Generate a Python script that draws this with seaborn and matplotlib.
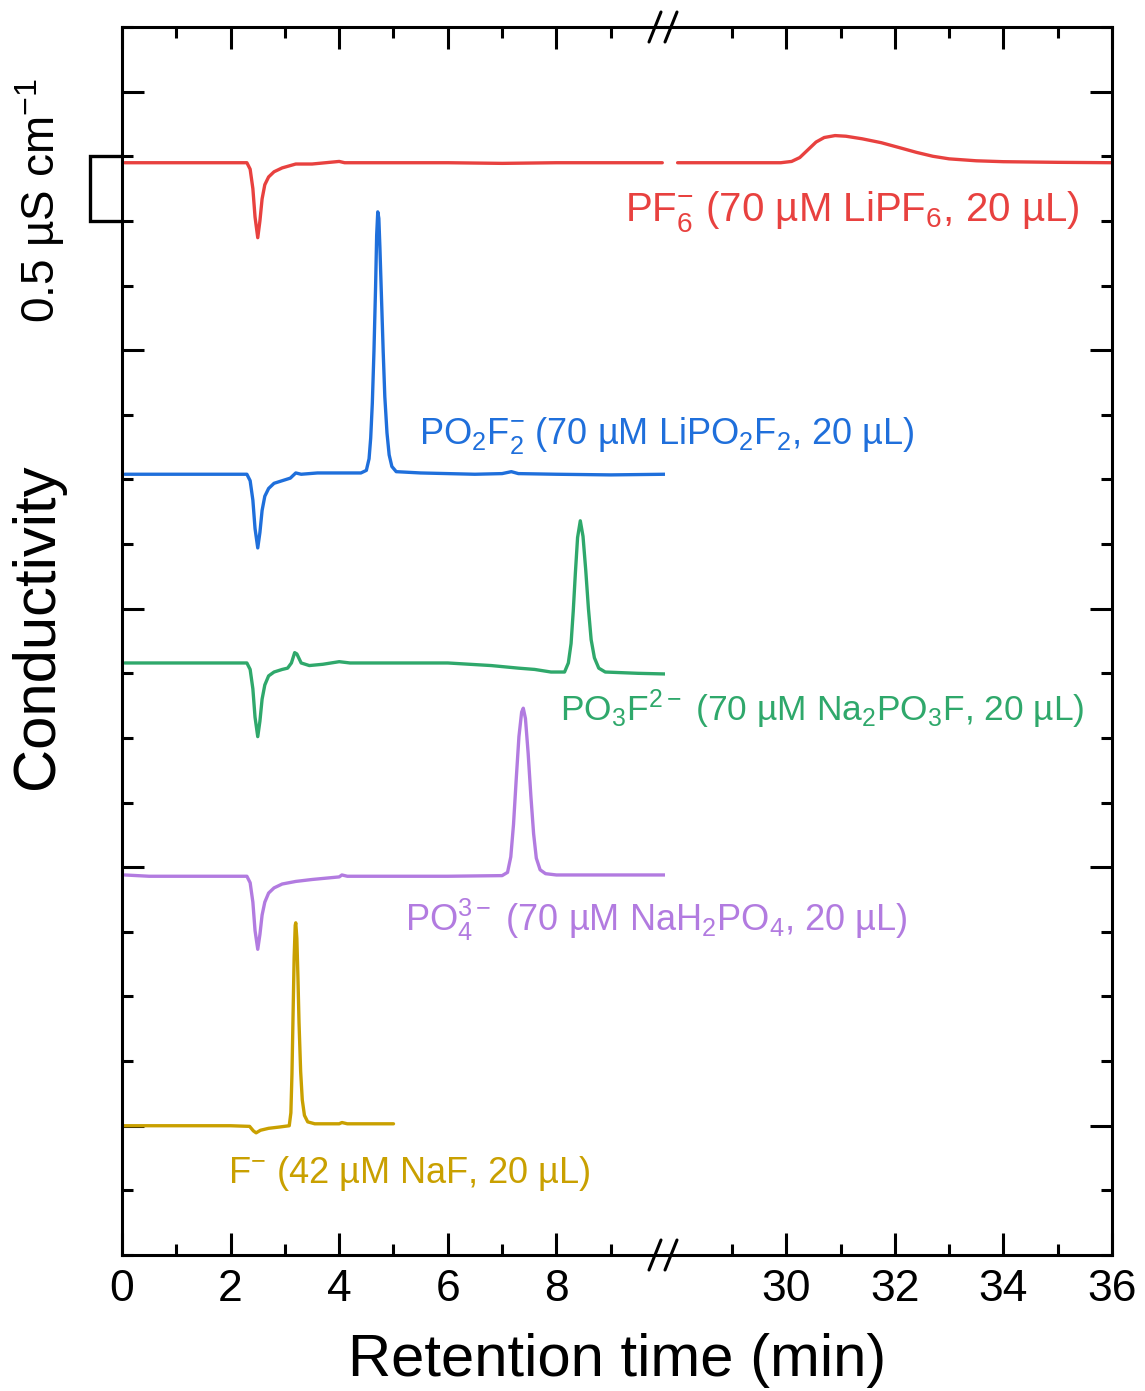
import numpy as np
import pandas as pd
import matplotlib
matplotlib.use("Agg")
import matplotlib.pyplot as plt
import matplotlib.transforms as mtransforms
import seaborn as sns

# ---------------- data ----------------
trace_names = ["PF6", "PO2F2", "PO3F", "PO4", "F"]
trace_colors = ["#e8413f", "#1f6fdb", "#2fa86b", "#b27be0", "#c9a000"]
baselines = [7.45, 5.04, 3.58, 1.93, 0.0]

pf6_t = [0.05, 0.5, 1.5, 2.3, 2.36, 2.41, 2.45, 2.5, 2.54, 2.58, 2.63, 2.7, 2.8, 2.95,
         3.2, 3.5, 4.0, 4.1, 5.0, 6.0, 7.0, 8.0, 9.0, 9.95]
pf6_v = [0.0, 0.0, 0.0, 0.0, -0.05, -0.2, -0.42, -0.58, -0.45, -0.28, -0.17, -0.11, -0.07, -0.04,
         -0.01, -0.01, 0.01, 0.0, 0.0, 0.0, -0.005, 0.0, 0.0, 0.0]
pf6_t_late = [28.0, 29.0, 29.9, 30.1, 30.25, 30.4, 30.55, 30.7, 30.9, 31.1, 31.4, 31.75,
              32.1, 32.4, 32.7, 33.0, 33.5, 34.0, 35.0, 36.0]
pf6_v_late = [0.0, 0.0, 0.0, 0.01, 0.04, 0.1, 0.16, 0.195, 0.21, 0.205, 0.185, 0.155,
              0.115, 0.08, 0.05, 0.03, 0.015, 0.008, 0.003, 0.0]

po2f2_t = [0.05, 1.0, 2.3, 2.36, 2.41, 2.45, 2.5, 2.54, 2.58, 2.63, 2.7, 2.8, 2.95, 3.1, 3.2,
           3.3, 3.6, 4.0, 4.4, 4.5, 4.55, 4.58, 4.61, 4.64, 4.67, 4.69, 4.71, 4.73, 4.75, 4.78,
           4.81, 4.84, 4.88, 4.92, 4.97, 5.05, 5.5, 6.5, 7.0, 7.17, 7.3, 8.0, 9.0, 10.0]
po2f2_v = [0.0, 0.0, 0.0, -0.05, -0.2, -0.42, -0.57, -0.45, -0.28, -0.17, -0.11, -0.07, -0.05,
           -0.03, 0.01, 0.0, 0.01, 0.01, 0.01, 0.03, 0.12, 0.28, 0.55, 0.95, 1.45, 1.85, 2.03,
           1.98, 1.75, 1.35, 0.95, 0.6, 0.32, 0.15, 0.06, 0.02, 0.01, 0.0, 0.005, 0.02, 0.005,
           0.0, -0.005, 0.0]

po3f_t = [0.05, 1.0, 2.3, 2.36, 2.41, 2.45, 2.5, 2.54, 2.58, 2.63, 2.7, 2.8, 2.95, 3.05, 3.12,
          3.18, 3.22, 3.3, 3.45, 3.7, 4.0, 4.2, 5.0, 6.0, 6.8, 7.3, 7.6, 7.9, 8.15, 8.22, 8.27,
          8.31, 8.35, 8.39, 8.44, 8.49, 8.54, 8.59, 8.64, 8.7, 8.78, 8.9, 9.5, 10.0]
po3f_v = [0.0, 0.0, 0.0, -0.05, -0.2, -0.42, -0.57, -0.45, -0.28, -0.17, -0.1, -0.07, -0.05,
          -0.04, 0.0, 0.08, 0.07, 0.0, -0.02, -0.01, 0.01, 0.0, 0.0, 0.0, -0.02, -0.04, -0.05,
          -0.07, -0.07, 0.0, 0.15, 0.4, 0.7, 0.97, 1.1, 0.98, 0.72, 0.42, 0.18, 0.04, -0.04,
          -0.07, -0.08, -0.085]

po4_t = [0.05, 0.5, 1.5, 2.3, 2.36, 2.41, 2.45, 2.5, 2.54, 2.58, 2.63, 2.7, 2.8, 2.95, 3.2,
         3.5, 4.0, 4.05, 4.15, 5.0, 6.0, 7.0, 7.1, 7.16, 7.21, 7.26, 7.31, 7.36, 7.39, 7.43,
         7.48, 7.53, 7.58, 7.63, 7.7, 7.8, 8.0, 9.0, 10.0]
po4_v = [0.01, 0.0, 0.0, 0.0, -0.05, -0.2, -0.42, -0.565, -0.45, -0.3, -0.2, -0.13, -0.09,
         -0.06, -0.04, -0.025, -0.005, 0.01, 0.0, 0.0, 0.0, 0.005, 0.03, 0.15, 0.4, 0.75, 1.08,
         1.27, 1.3, 1.22, 0.95, 0.62, 0.33, 0.14, 0.05, 0.02, 0.01, 0.01, 0.01]

f_t = [0.0, 1.0, 2.0, 2.35, 2.42, 2.47, 2.55, 2.7, 2.9, 3.08, 3.11, 3.13, 3.15, 3.17, 3.19,
       3.2, 3.22, 3.24, 3.26, 3.29, 3.32, 3.36, 3.42, 3.55, 4.0, 4.05, 4.15, 5.0]
f_v = [0.0, 0.0, 0.0, -0.005, -0.04, -0.055, -0.035, -0.02, -0.01, 0.0, 0.1, 0.4, 0.85, 1.3,
       1.55, 1.57, 1.45, 1.15, 0.8, 0.42, 0.2, 0.08, 0.03, 0.015, 0.015, 0.025, 0.015, 0.015]

labels = [r"PF$_6^{-}$ (70 µM LiPF$_6$, 20 µL)",
          r"PO$_2$F$_2^{-}$ (70 µM LiPO$_2$F$_2$, 20 µL)",
          r"PO$_3$F$^{2-}$ (70 µM Na$_2$PO$_3$F, 20 µL)",
          r"PO$_4^{3-}$ (70 µM NaH$_2$PO$_4$, 20 µL)",
          r"F$^{-}$ (42 µM NaF, 20 µL)"]

x_ticks_left = [0, 2, 4, 6, 8]
x_ticks_right = [30, 32, 34, 36]
scale_bar = 0.5  # µS cm^-1

# ---------------- build tidy frame ----------------
series = [(pf6_t, pf6_v), (po2f2_t, po2f2_v), (po3f_t, po3f_v), (po4_t, po4_v), (f_t, f_v)]
rows = []
for name, base, (t, v) in zip(trace_names, baselines, series):
    for ti, vi in zip(t, v):
        rows.append((name, ti, vi + base))
df_left = pd.DataFrame(rows, columns=["trace", "time", "signal"])
df_right = pd.DataFrame({"trace": "PF6", "time": pf6_t_late,
                         "signal": np.array(pf6_v_late) + baselines[0]})

# ---------------- style ----------------
sns.set_theme(style="ticks")
plt.rcParams["font.family"] = ["Liberation Sans", "DejaVu Sans"]
plt.rcParams["mathtext.fontset"] = "custom"
plt.rcParams["mathtext.rm"] = "Liberation Sans"
plt.rcParams["mathtext.it"] = "Liberation Sans:italic"
plt.rcParams["mathtext.bf"] = "Liberation Sans:bold"
plt.rcParams["mathtext.default"] = "regular"
plt.rcParams["text.color"] = "black"
plt.rcParams["axes.labelcolor"] = "black"
plt.rcParams["xtick.color"] = "black"
plt.rcParams["ytick.color"] = "black"

W, H = 1145, 1391
fig = plt.figure(figsize=(W / 100, H / 100), dpi=100)
x0, xb, x1 = 122, 665, 1112
y_top, y_bot = 27, 1255
ax1 = fig.add_axes([x0 / W, 1 - y_bot / H, (xb - x0) / W, (y_bot - y_top) / H])
ax2 = fig.add_axes([xb / W, 1 - y_bot / H, (x1 - xb) / W, (y_bot - y_top) / H])
ax1.set_facecolor("none")
ax2.set_facecolor("none")

pal = dict(zip(trace_names, trace_colors))
lw = 2.4
line_kw = dict(solid_joinstyle="round", solid_capstyle="round")
sns.lineplot(data=df_left, x="time", y="signal", hue="trace", palette=pal, units="trace",
             estimator=None, sort=False, legend=False, lw=lw, ax=ax1, **line_kw)
sns.lineplot(data=df_right, x="time", y="signal", hue="trace", palette=pal,
             estimator=None, sort=False, legend=False, lw=lw, ax=ax2, **line_kw)

px_per_min = (xb - x0) / 10.0
ax1.set_xlim(0, 10)
ax2.set_xlim(36 - (x1 - xb) / px_per_min, 36)
for ax in (ax1, ax2):
    ax.set_ylim(-1, 8.5)
    ax.set_xlabel("")
    ax.set_ylabel("")
    for s in ax.spines.values():
        s.set_linewidth(2.2)
        s.set_color("black")
    ax.yaxis.set_major_locator(matplotlib.ticker.MultipleLocator(2))
    ax.yaxis.set_minor_locator(matplotlib.ticker.MultipleLocator(0.5))
    ax.tick_params(which="both", direction="in", width=2.2, color="black",
                   labelsize=32, top=True, pad=10, labelcolor="black")
    ax.tick_params(which="major", length=16)
    ax.tick_params(which="minor", length=8)
    ax.set_yticklabels([])

ax1.spines["right"].set_visible(False)
ax2.spines["left"].set_visible(False)
ax1.tick_params(axis="y", which="both", left=True, right=False)
ax2.tick_params(axis="y", which="both", left=False, right=True)
ax1.set_xticks(x_ticks_left)
ax1.set_xticks(np.arange(1, 10, 1), minor=True)
ax2.set_xticks(x_ticks_right)
ax2.set_xticks(np.arange(29, 36, 1), minor=True)
ax1.set_xticklabels([str(v) for v in x_ticks_left])
ax2.set_xticklabels([str(v) for v in x_ticks_right])
ax1.yaxis.set_tick_params(labelleft=False)
ax2.yaxis.set_tick_params(labelright=False, labelleft=False)

# break marks
for ypix in (y_bot, y_top):
    for dx in (-10, 6):
        xs = np.array([xb + dx - 6, xb + dx + 6]) / W
        ys = (np.array([H - ypix] * 2, dtype=float) + np.array([-15, 15])) / H
        fig.add_artist(matplotlib.lines.Line2D(xs, ys, color="black", lw=2.2))

# labels on traces
label_pos = [(ax2, 35.4, 7.0, "right"), (ax1, 5.47, 5.275, "left"), (ax1, 8.06, 3.133, "left"),
             (ax1, 5.21, 1.508, "left"), (ax1, 1.96, -0.44, "left")]
label_sizes = [29, 26, 25.5, 26, 26]
for (ax, lx, ly, ha), lab, col, fs in zip(label_pos, labels, trace_colors, label_sizes):
    ax.text(lx, ly, lab, color=col, fontsize=fs, ha=ha, va="baseline", clip_on=False,
            zorder=5)

# scale bar bracket left of axis
tr = mtransforms.blended_transform_factory(ax1.transAxes, ax1.transData)
bx = (90 - x0) / (xb - x0)
sb_top = 7.5
ax1.plot([0, bx, bx, 0], [sb_top, sb_top, sb_top - scale_bar, sb_top - scale_bar],
         color="black", lw=2.4, transform=tr, clip_on=False, solid_joinstyle="miter")

fig.text(40 / W, 1 - 200 / H, r"0.5 µS cm$^{-1}$", rotation=90, fontsize=33,
         ha="center", va="center", color="black")
fig.text(38 / W, 1 - 626 / H, "Conductivity", rotation=90, fontsize=43,
         ha="center", va="center", color="black")
fig.text(617 / W, 1 - 1360 / H, "Retention time (min)", fontsize=43,
         ha="center", va="center", color="black")

fig.savefig("out.png", dpi=100, facecolor="white")
